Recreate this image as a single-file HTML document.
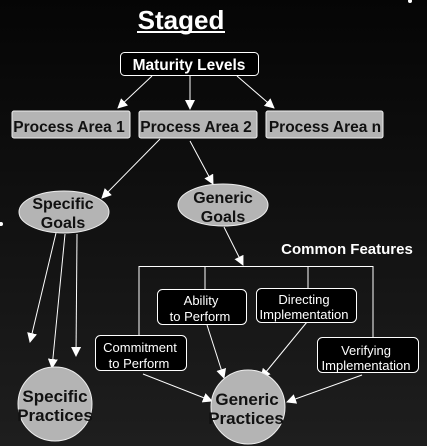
<!DOCTYPE html>
<html><head><meta charset="utf-8"><style>
html,body{margin:0;padding:0;background:#111;}
svg{display:block}
text{font-family:"Liberation Sans",sans-serif;}
</style></head><body>
<svg width="427" height="446" viewBox="0 0 427 446" xmlns="http://www.w3.org/2000/svg">
<defs>
<linearGradient id="bg" x1="0" y1="0" x2="0" y2="1">
<stop offset="0" stop-color="#050505"/><stop offset="1" stop-color="#1e1e1e"/>
</linearGradient>
<marker id="a" viewBox="0 0 10 10" refX="9" refY="5" markerWidth="10" markerHeight="10" markerUnits="userSpaceOnUse" orient="auto">
<path d="M0,0 L10,5 L0,10 Z" fill="#fff"/></marker>
</defs>
<rect width="427" height="446" fill="url(#bg)"/>
<circle cx="410" cy="1" r="2" fill="#fff"/><circle cx="1" cy="224" r="2" fill="#fff"/>
<text x="181" y="29" font-size="26" font-weight="bold" fill="#fff" text-anchor="middle">Staged</text>
<line x1="137" y1="32" x2="225" y2="32" stroke="#fff" stroke-width="2"/>
<rect x="120.5" y="52.5" width="138" height="23" rx="4" fill="#000" stroke="#fff"/>
<text x="189" y="70" font-size="15.5" font-weight="bold" fill="#fff" text-anchor="middle">Maturity Levels</text>
<g fill="#b4b4b4" stroke="#eee">
<rect x="12" y="111" width="118" height="27" rx="2"/>
<rect x="139" y="111" width="118" height="27" rx="2"/>
<rect x="266" y="111" width="117" height="27" rx="2"/>
</g>
<g font-size="15.5" font-weight="bold" fill="#111" text-anchor="middle">
<text x="69" y="132">Process Area 1</text>
<text x="196" y="132">Process Area 2</text>
<text x="325" y="132">Process Area n</text>
</g>
<g stroke="#fff" stroke-width="1" marker-end="url(#a)">
<line x1="152" y1="76" x2="118" y2="108"/>
<line x1="190" y1="76" x2="190" y2="109"/>
<line x1="237" y1="76" x2="274" y2="108"/>
<line x1="160" y1="139" x2="102" y2="198"/>
<line x1="190" y1="141" x2="213" y2="184"/>
<line x1="224" y1="227" x2="243" y2="265"/>
<line x1="56" y1="233" x2="30" y2="342"/>
<line x1="65" y1="234" x2="52" y2="368"/>
<line x1="77" y1="234" x2="76" y2="356"/>
<line x1="143" y1="374" x2="212" y2="401"/>
<line x1="207" y1="325" x2="224" y2="378"/>
<line x1="307" y1="322" x2="261" y2="378"/>
<line x1="362" y1="375" x2="287" y2="402"/>
</g>
<ellipse cx="64" cy="212" rx="45" ry="21" fill="#b4b4b4" stroke="#eee"/>
<ellipse cx="223" cy="205" rx="45" ry="21" fill="#b4b4b4" stroke="#eee"/>
<g font-size="16" font-weight="bold" fill="#111" text-anchor="middle">
<text x="63" y="209">Specific</text><text x="63" y="228">Goals</text>
<text x="223" y="203">Generic</text><text x="223" y="222">Goals</text>
</g>
<text x="347" y="254" font-size="15" font-weight="bold" fill="#fff" text-anchor="middle">Common Features</text>
<g stroke="#fff" fill="none">
<polyline points="139,336 139,266.5 373,266.5 373,337"/>
<line x1="205" y1="266" x2="205" y2="289"/>
<line x1="308" y1="266" x2="308" y2="288"/>
</g>
<g fill="#000" stroke="#fff">
<rect x="157.5" y="289.5" width="89" height="35" rx="5"/>
<rect x="256.5" y="288.5" width="100" height="34" rx="5"/>
<rect x="95.5" y="335.5" width="91" height="35" rx="5"/>
<rect x="317.5" y="337.5" width="101" height="35" rx="5"/>
</g>
<g font-size="13" fill="#fff" text-anchor="middle">
<text x="201" y="305">Ability</text><text x="200" y="321">to Perform</text>
<text x="304" y="304">Directing</text><text x="304" y="319">Implementation</text>
<text x="140" y="352">Commitment</text><text x="139" y="368">to Perform</text>
<text x="366" y="355">Verifying</text><text x="366" y="370">Implementation</text>
</g>
<circle cx="55" cy="404" r="37" fill="#b4b4b4" stroke="#eee"/>
<circle cx="248" cy="407" r="37" fill="#b4b4b4" stroke="#eee"/>
<g font-size="17" font-weight="bold" fill="#111" text-anchor="middle">
<text x="55" y="402">Specific</text><text x="55" y="421">Practices</text>
<text x="247" y="405">Generic</text><text x="246" y="424">Practices</text>
</g>
</svg>
</body></html>
